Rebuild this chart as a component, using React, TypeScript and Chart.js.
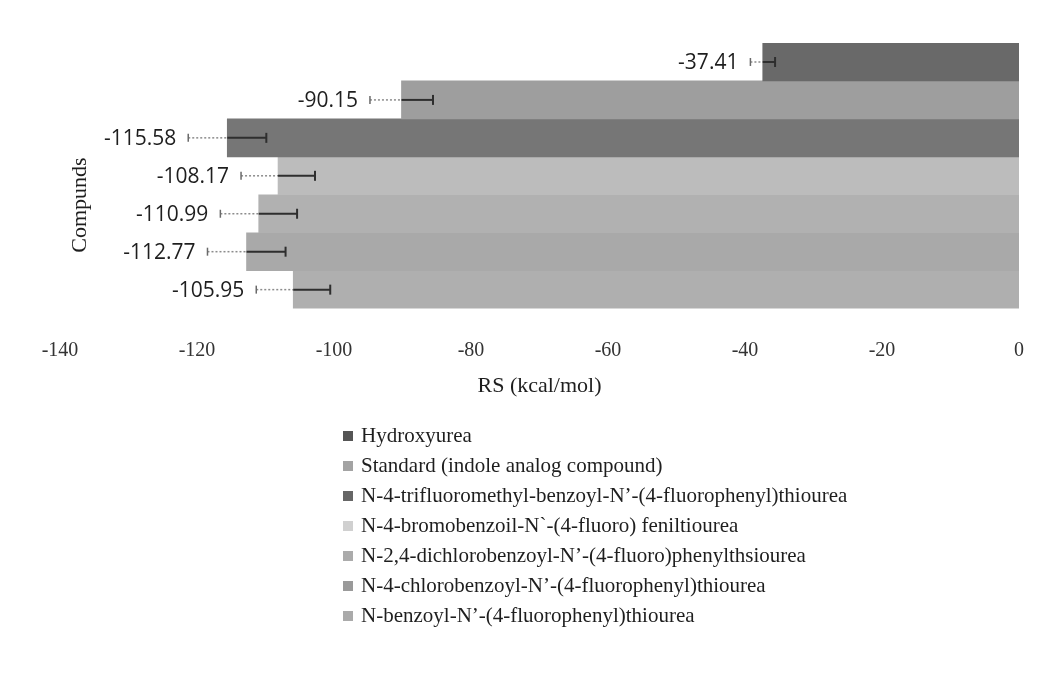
import React, { useEffect, useRef } from "react";
import { Chart, registerables } from "chart.js";

Chart.register(...registerables);

// ---- data ----
const compounds = [
  "Hydroxyurea",
  "Standard (indole analog compound)",
  "N-4-trifluoromethyl-benzoyl-N’-(4-fluorophenyl)thiourea",
  "N-4-bromobenzoil-N`-(4-fluoro) feniltiourea",
  "N-2,4-dichlorobenzoyl-N’-(4-fluoro)phenylthsiourea",
  "N-4-chlorobenzoyl-N’-(4-fluorophenyl)thiourea",
  "N-benzoyl-N’-(4-fluorophenyl)thiourea",
];
const rsValues = [-37.41, -90.15, -115.58, -108.17, -110.99, -112.77, -105.95];
const rsErrors = [1.8, 4.6, 5.7, 5.4, 5.6, 5.7, 5.4];
const xTickValues = [-140, -120, -100, -80, -60, -40, -20, 0];
const categoryLabels = [""];

// ---- styles ----
const barColors = ["#696969", "#9e9e9e", "#767676", "#bcbcbc", "#b1b1b1", "#a9a9a9", "#afafaf"];
const legendColors = ["#555555", "#a3a3a3", "#666666", "#d0d0d0", "#ababab", "#9a9a9a", "#aaaaaa"];

const serif = "'Liberation Serif', 'Times New Roman', serif";
const sans = "'Open Sans', 'Liberation Sans', sans-serif";

const overlayPlugin = {
  id: "overlay",
  afterDatasetsDraw(chart: any) {
    const ctx = chart.ctx;
    const xs = chart.scales.x;
    chart.data.datasets.forEach((_ds: any, i: number) => {
      const bar = chart.getDatasetMeta(i).data[0];
      if (!bar) return;
      const v = rsValues[i];
      const e = rsErrors[i];
      const xe = bar.x;
      const yc = bar.y;
      const xlo = xs.getPixelForValue(v - e);
      const xhi = xs.getPixelForValue(v + e);
      ctx.save();
      ctx.strokeStyle = "#8c8c8c";
      ctx.lineWidth = 1.5;
      ctx.setLineDash([2, 2]);
      ctx.beginPath();
      ctx.moveTo(xlo, yc);
      ctx.lineTo(xe, yc);
      ctx.stroke();
      ctx.setLineDash([]);
      ctx.strokeStyle = "#2e2e2e";
      ctx.lineWidth = 2;
      ctx.beginPath();
      ctx.moveTo(xe, yc);
      ctx.lineTo(xhi, yc);
      ctx.stroke();
      ctx.beginPath();
      ctx.moveTo(xhi, yc - 5);
      ctx.lineTo(xhi, yc + 5);
      ctx.stroke();
      ctx.strokeStyle = "#6a6a6a";
      ctx.lineWidth = 1.5;
      ctx.beginPath();
      ctx.moveTo(xlo, yc - 4);
      ctx.lineTo(xlo, yc + 4);
      ctx.stroke();
      ctx.font = `21px ${sans}`;
      ctx.fillStyle = "#1e1e1e";
      ctx.textAlign = "right";
      ctx.textBaseline = "middle";
      ctx.fillText(v.toFixed(2), xlo - 12, yc + 1);
      ctx.restore();
    });
  },
  afterDraw(chart: any) {
    const ctx = chart.ctx;
    const area = chart.chartArea;
    ctx.save();
    // y axis title
    ctx.translate(80, area.top + 162);
    ctx.rotate(-Math.PI / 2);
    ctx.font = `22px ${serif}`;
    ctx.fillStyle = "#1e1e1e";
    ctx.textAlign = "center";
    ctx.textBaseline = "middle";
    ctx.fillText("Compunds", 0, 0);
    ctx.restore();

    // legend
    ctx.save();
    const top = chart.scales.x.bottom + 37;
    ctx.font = `21px ${serif}`;
    ctx.textAlign = "left";
    ctx.textBaseline = "middle";
    compounds.forEach((name, i) => {
      const y = top + i * 30;
      ctx.fillStyle = legendColors[i];
      ctx.fillRect(343, y - 5, 10, 10);
      ctx.fillStyle = "#1e1e1e";
      ctx.fillText(name, 361, y);
    });
    ctx.restore();
  },
};

export default function App() {
  const ref = useRef<HTMLCanvasElement | null>(null);
  useEffect(() => {
    if (!ref.current) return;
    const chart = new Chart(ref.current, {
      type: "bar",
      data: {
        labels: categoryLabels,
        datasets: compounds.map((name, i) => ({
          label: name,
          data: [rsValues[i]],
          backgroundColor: barColors[i],
          borderWidth: 0,
          categoryPercentage: 1,
          barPercentage: 1,
        })),
      },
      options: {
        indexAxis: "y",
        responsive: false,
        animation: false,
        layout: { padding: { left: 60, right: 35, top: 43, bottom: 279 } },
        plugins: {
          legend: { display: false },
          tooltip: { enabled: false },
        },
        scales: {
          x: {
            type: "linear",
            position: "bottom",
            min: -140,
            max: 0,
            afterBuildTicks: (scale: any) => {
              scale.ticks = xTickValues.map((v) => ({ value: v }));
            },
            grid: { display: false, drawTicks: false },
            border: { display: false },
            ticks: {
              padding: 30,
              color: "#333333",
              font: { family: serif, size: 20 },
            },
            title: {
              display: true,
              text: "RS (kcal/mol)",
              color: "#1e1e1e",
              font: { family: serif, size: 22 },
              padding: { top: -20, bottom: 0 },
            },
          },
          y: {
            type: "category",
            display: false,
          },
        },
      },
      plugins: [overlayPlugin],
    } as any);
    return () => chart.destroy();
  }, []);
  return (
    <div style={{ position: "absolute", left: 0, top: 0, width: 1054, height: 678, background: "#ffffff" }}>
      <canvas ref={ref} width={1054} height={678} />
    </div>
  );
}
